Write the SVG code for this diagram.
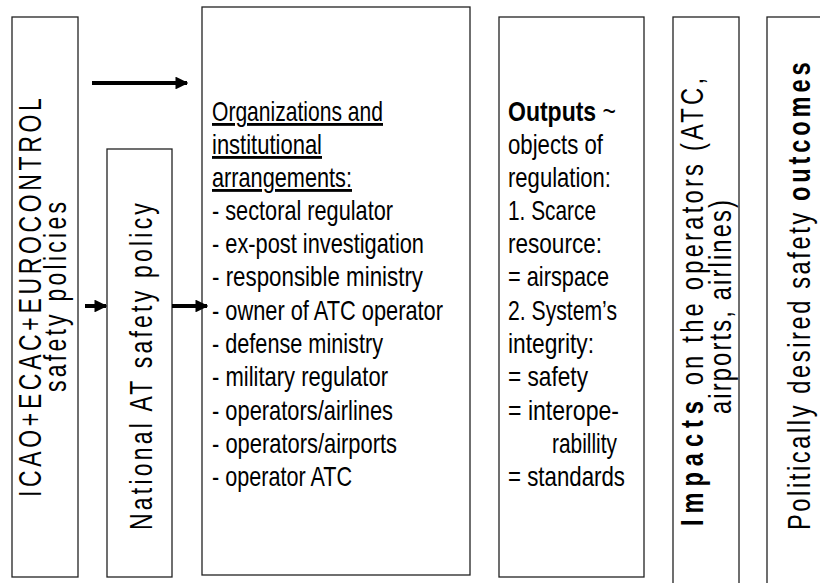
<svg xmlns="http://www.w3.org/2000/svg" width="820" height="583" viewBox="0 0 820 583">
<style>
.box{fill:#fff;stroke:#222;stroke-width:1.3}
.t{font-family:"Liberation Sans",Arial,sans-serif;font-size:28.5px;fill:#000}
.r{font-family:"Liberation Sans",Arial,sans-serif;font-size:32px;fill:#000}
.b{font-weight:bold}
.arr{stroke:#000;stroke-width:4;fill:none}
</style>
<defs>
<marker id="ah" viewBox="0 0 10 10" refX="9" refY="5" markerWidth="3.2" markerHeight="3.2" orient="auto" markerUnits="strokeWidth">
<path d="M0,0 L10,5 L0,10 z" fill="#000"/>
</marker>
</defs>
<rect width="820" height="583" fill="#fff"/>
<g id="n1">
<rect class="box" x="12" y="17" width="66" height="560"/>
<text class="r" transform="translate(41,497) rotate(-90) scale(0.72,1)" textLength="554" lengthAdjust="spacing">ICAO+ECAC+EUROCONTROL</text>
<text class="r" text-anchor="middle" transform="translate(66,297) rotate(-90) scale(0.72,1)" textLength="264" lengthAdjust="spacing">safety policies</text>
</g>
<g id="n2">
<rect class="box" x="107" y="149" width="65" height="428"/>
<text class="r" transform="translate(152,530) rotate(-90) scale(0.72,1)" textLength="454" lengthAdjust="spacing">National AT safety policy</text>
</g>
<g id="n3">
<rect class="box" x="202" y="7" width="268" height="568"/>
<text class="t" x="212" y="121" textLength="171" lengthAdjust="spacingAndGlyphs" text-decoration="underline">Organizations and</text>
<text class="t" x="212" y="154" textLength="110" lengthAdjust="spacingAndGlyphs" text-decoration="underline">institutional</text>
<text class="t" x="212" y="187" textLength="140" lengthAdjust="spacingAndGlyphs" text-decoration="underline">arrangements:</text>
<text class="t" x="212" y="220" textLength="181" lengthAdjust="spacingAndGlyphs">- sectoral regulator</text>
<text class="t" x="212" y="253" textLength="212" lengthAdjust="spacingAndGlyphs">- ex-post investigation</text>
<text class="t" x="212" y="286" textLength="211" lengthAdjust="spacingAndGlyphs">- responsible ministry</text>
<text class="t" x="212" y="320" textLength="231" lengthAdjust="spacingAndGlyphs">- owner of ATC operator</text>
<text class="t" x="212" y="353" textLength="171" lengthAdjust="spacingAndGlyphs">- defense ministry</text>
<text class="t" x="212" y="386" textLength="176" lengthAdjust="spacingAndGlyphs">- military regulator</text>
<text class="t" x="212" y="420" textLength="181" lengthAdjust="spacingAndGlyphs">- operators/airlines</text>
<text class="t" x="212" y="453" textLength="185" lengthAdjust="spacingAndGlyphs">- operators/airports</text>
<text class="t" x="212" y="486" textLength="140" lengthAdjust="spacingAndGlyphs">- operator ATC</text>
</g>
<g id="n4">
<rect class="box" x="499" y="17" width="145" height="560"/>
<text class="t" x="508" y="121" textLength="108" lengthAdjust="spacingAndGlyphs"><tspan class="b">Outputs</tspan> ~</text>
<text class="t" x="508" y="154" textLength="95" lengthAdjust="spacingAndGlyphs">objects of</text>
<text class="t" x="508" y="187" textLength="103" lengthAdjust="spacingAndGlyphs">regulation:</text>
<text class="t" x="508" y="220" textLength="88" lengthAdjust="spacingAndGlyphs">1. Scarce</text>
<text class="t" x="508" y="253" textLength="94" lengthAdjust="spacingAndGlyphs">resource:</text>
<text class="t" x="508" y="286" textLength="101" lengthAdjust="spacingAndGlyphs">= airspace</text>
<text class="t" x="508" y="320" textLength="109" lengthAdjust="spacingAndGlyphs">2. System’s</text>
<text class="t" x="508" y="353" textLength="86" lengthAdjust="spacingAndGlyphs">integrity:</text>
<text class="t" x="508" y="386" textLength="80" lengthAdjust="spacingAndGlyphs">= safety</text>
<text class="t" x="508" y="420" textLength="111" lengthAdjust="spacingAndGlyphs">= interope-</text>
<text class="t" x="552" y="453" textLength="65" lengthAdjust="spacingAndGlyphs">rabillity</text>
<text class="t" x="508" y="486" textLength="117" lengthAdjust="spacingAndGlyphs">= standards</text>
</g>
<g id="n5">
<rect class="box" x="673" y="17" width="66" height="580"/>
<text class="r" transform="translate(703,526) rotate(-90) scale(0.74,1)"><tspan class="b" letter-spacing="8">Impacts</tspan><tspan letter-spacing="4.4"> on the operators (ATC,</tspan></text>
<text class="r" transform="translate(731,414) rotate(-90) scale(0.74,1)" textLength="289" lengthAdjust="spacing">airports, airlines)</text>
</g>
<g id="n6">
<rect class="box" x="767" y="17" width="70" height="580"/>
<text class="r" transform="translate(810,530) rotate(-90) scale(0.74,1)"><tspan letter-spacing="3.5">Politically desired safety </tspan><tspan class="b" letter-spacing="5.2">outcomes</tspan></text>
</g>
<g id="connectors">
<line class="arr" x1="92" y1="83" x2="187" y2="83" marker-end="url(#ah)"/>
<line class="arr" x1="85" y1="306" x2="106" y2="306" marker-end="url(#ah)"/>
<line class="arr" x1="172" y1="306" x2="207" y2="306" marker-end="url(#ah)"/>
</g>
</svg>
